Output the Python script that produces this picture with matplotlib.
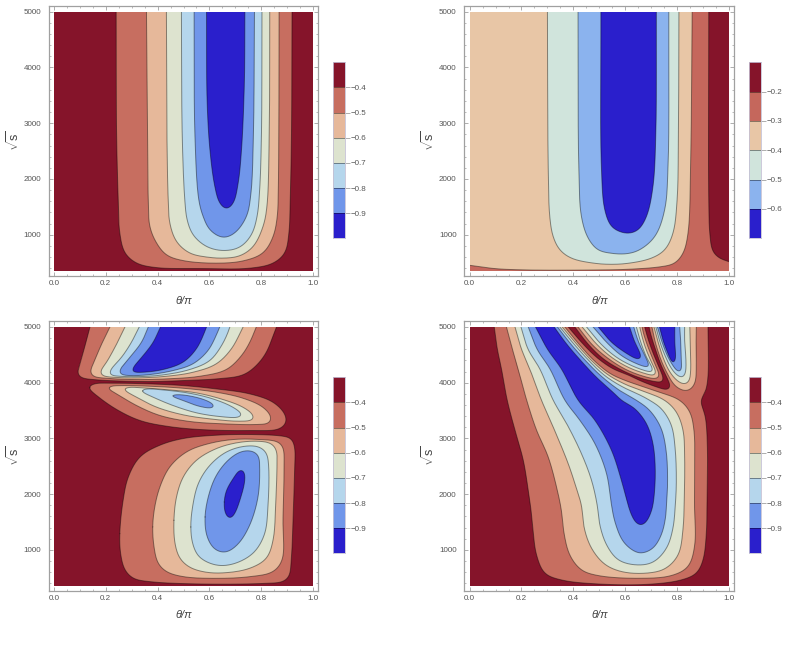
"""Four theta/pi vs sqrt(s) contour panels with stepped colour bars, drawn from traced level curves."""
import numpy as np
import matplotlib
matplotlib.use("Agg")
import matplotlib.pyplot as plt
from matplotlib.patches import Rectangle
from matplotlib.ticker import MultipleLocator

plt.rcParams["font.family"] = ["Liberation Sans", "DejaVu Sans"]
plt.rcParams["mathtext.fontset"] = "custom"
plt.rcParams["mathtext.rm"] = "Liberation Sans"

W, H = 790, 645
THETA_MIN, THETA_MAX = 0.0, 1.0
ROOT_S_MIN, ROOT_S_MAX = 350, 5000
TEXT = "#555555"
FRAME = "#a0a0a0"
LINE = (0, 0, 0, 0.42)

# band colours, lowest band first
BANDS_7 = ["#2a1fcc", "#7096ea", "#b5d6ec", "#dde3cf", "#e6b89a", "#c76e60", "#85142a"]
BANDS_6 = ["#2a1fcc", "#8bb3ee", "#d0e4dc", "#e8c6a6", "#c5675c", "#85142a"]
TICKS_7 = [-0.9, -0.8, -0.7, -0.6, -0.5, -0.4]
TICKS_6 = [-0.6, -0.5, -0.4, -0.3, -0.2]

# top left panel, one curve per level
A_04 = [(.24, 5000), (.241, 3000), (.248, 1624), (.254, 1032), (.274, 673), (.319, 490), (.396, 410), (.563, 395),
        (.756, 400), (.846, 490), (.891, 673), (.907, 1032), (.912, 1624), (.917, 2800), (.919, 5000)]
A_05 = [(.357, 5000), (.361, 2800), (.364, 1624), (.37, 1145), (.396, 850), (.434, 637), (.499, 535), (.627, 490),
        (.73, 530), (.807, 673), (.846, 966), (.862, 1324), (.866, 1800), (.868, 2800), (.869, 5000)]
A_06 = [(.434, 5000), (.436, 2800), (.441, 1624), (.447, 1210), (.473, 876), (.524, 670), (.589, 600), (.653, 580),
        (.717, 620), (.769, 787), (.807, 1145), (.822, 1500), (.831, 2800), (.833, 5000)]
A_07 = [(.492, 5000), (.495, 2800), (.505, 1624), (.514, 1265), (.537, 996), (.589, 787), (.653, 715), (.717, 775),
        (.762, 996), (.784, 1324), (.794, 1800), (.801, 2800), (.803, 5000)]
A_08 = [(.541, 5000), (.544, 2800), (.559, 1624), (.576, 1324), (.602, 1085), (.653, 948), (.698, 1030), (.743, 1324),
        (.76, 1724), (.77, 2800), (.774, 5000)]
A_09 = [(.589, 5000), (.591, 3416), (.602, 2520), (.621, 1862), (.64, 1563), (.666, 1456), (.692, 1563), (.711, 1922),
        (.724, 2520), (.735, 3715), (.737, 5000)]

# top right panel
B_03 = [(0, 452), (.098, 392), (.226, 368), (.483, 368), (.61, 380), (.74, 428), (.79, 487), (.823, 667), (.842, 1025),
        (.852, 2220), (.858, 5000)]
B_02 = [(.922, 5000), (.922, 1623), (.926, 1025), (.938, 697), (.964, 577), (1.0, 517)]
B_04 = [(.30, 5000), (.303, 2220), (.309, 1324), (.322, 965), (.348, 726), (.393, 577), (.483, 487), (.547, 469),
        (.611, 487), (.70, 577), (.752, 726), (.784, 1025), (.80, 1623), (.805, 2800), (.807, 5000)]
B_05 = [(.418, 5000), (.421, 2220), (.431, 1324), (.457, 936), (.495, 726), (.547, 667), (.598, 655), (.65, 714),
        (.714, 965), (.752, 1444), (.765, 2220), (.768, 5000)]
B_06 = [(.506, 5000), (.508, 2220), (.521, 1444), (.547, 1145), (.585, 1043), (.617, 1025), (.65, 1085), (.682, 1324),
        (.707, 1862), (.718, 2818), (.72, 5000)]

# bottom left panel: lower lobe (closed)
C_LOW_04 = [(.254, 1294), (.257, 936), (.274, 637), (.306, 487), (.37, 428), (.563, 386), (.82, 398), (.884, 428),
            (.907, 517), (.916, 816), (.923, 1533), (.929, 2430), (.929, 2848), (.916, 2998), (.884, 3040), (.756, 3070),
            (.627, 3057), (.499, 2998), (.409, 2878), (.332, 2669), (.287, 2310), (.267, 1892)]
C_LOW_05 = [(.381, 1414), (.386, 1055), (.402, 756), (.434, 607), (.499, 517), (.627, 487), (.756, 517), (.846, 607),
            (.881, 816), (.884, 1533), (.888, 2430), (.884, 2848), (.865, 2938), (.794, 2980), (.691, 2980), (.589, 2896),
            (.512, 2759), (.447, 2490), (.409, 2131), (.389, 1772)]
C_LOW_06 = [(.463, 1533), (.467, 1115), (.486, 846), (.524, 685), (.589, 595), (.666, 589), (.756, 667), (.82, 846),
            (.846, 1175), (.856, 1832), (.861, 2549), (.859, 2788), (.839, 2908), (.781, 2950), (.704, 2920), (.627, 2818),
            (.55, 2609), (.499, 2310), (.473, 1952)]
C_LOW_07 = [(.528, 1414), (.535, 1115), (.557, 888), (.602, 756), (.653, 714), (.717, 786), (.775, 966), (.814, 1294),
            (.826, 1772), (.829, 2490), (.82, 2741), (.792, 2848), (.736, 2860), (.666, 2759), (.602, 2520), (.557, 2191),
            (.535, 1772)]
C_LOW_08 = [(.583, 1593), (.591, 1234), (.621, 1007), (.663, 954), (.711, 1103), (.756, 1444), (.788, 1952), (.794, 2490),
            (.789, 2699), (.762, 2777), (.72, 2759), (.672, 2609), (.627, 2340), (.599, 2011)]
C_LOW_09 = [(.657, 1862), (.662, 1641), (.679, 1551), (.695, 1623), (.72, 1922), (.737, 2250), (.734, 2418), (.72, 2448),
            (.692, 2280), (.666, 2071)]
# bottom left panel: middle lobe (closed)
C_MID_04 = [(.132, 3918), (.165, 3769), (.242, 3518), (.332, 3320), (.434, 3219), (.563, 3159), (.756, 3141), (.871, 3171),
            (.897, 3290), (.891, 3440), (.846, 3649), (.756, 3799), (.627, 3888), (.499, 3948), (.37, 3978), (.242, 3990),
            (.152, 3978)]
C_MID_05 = [(.206, 3906), (.242, 3799), (.319, 3589), (.409, 3410), (.524, 3303), (.653, 3261), (.781, 3249), (.833, 3279),
            (.839, 3380), (.807, 3560), (.73, 3721), (.627, 3829), (.499, 3900), (.37, 3936), (.267, 3948), (.216, 3936)]
C_MID_06 = [(.267, 3888), (.319, 3739), (.396, 3560), (.499, 3422), (.602, 3350), (.717, 3308), (.771, 3338), (.771, 3410),
            (.73, 3560), (.653, 3697), (.55, 3817), (.447, 3870), (.344, 3906), (.287, 3918)]
C_MID_07 = [(.334, 3858), (.383, 3739), (.46, 3589), (.55, 3458), (.64, 3392), (.717, 3380), (.728, 3422), (.691, 3560),
            (.614, 3709), (.524, 3811), (.421, 3870), (.351, 3888)]
C_MID_08 = [(.45, 3769), (.499, 3680), (.563, 3572), (.618, 3548), (.621, 3590), (.589, 3680), (.537, 3751), (.479, 3787)]
# bottom left panel: upper lobe (runs out through the top edge)
C_TOP_04 = [(.139, 5000), (.12, 4665), (.098, 4307), (.09, 4157), (.103, 4092), (.152, 4056), (.242, 4032), (.37, 4020),
            (.499, 4038), (.627, 4068), (.73, 4139), (.781, 4307), (.82, 4546), (.846, 4845), (.859, 5000)]
C_TOP_05 = [(.216, 5000), (.184, 4695), (.154, 4366), (.139, 4187), (.149, 4115), (.203, 4080), (.306, 4056), (.434, 4068),
            (.563, 4115), (.666, 4235), (.724, 4486), (.756, 4725), (.781, 5000)]
C_TOP_06 = [(.274, 5000), (.242, 4695), (.203, 4366), (.177, 4187), (.184, 4127), (.229, 4098), (.319, 4086), (.434, 4115),
            (.537, 4187), (.627, 4337), (.685, 4606), (.717, 4875), (.73, 5000)]
C_TOP_07 = [(.329, 5000), (.299, 4725), (.261, 4456), (.216, 4217), (.213, 4145), (.254, 4115), (.332, 4109), (.421, 4139),
            (.524, 4235), (.602, 4396), (.647, 4665), (.672, 4904), (.679, 5000)]
C_TOP_08 = [(.364, 5000), (.338, 4725), (.293, 4456), (.252, 4217), (.252, 4157), (.293, 4127), (.37, 4145), (.46, 4217),
            (.537, 4337), (.595, 4576), (.623, 4815), (.64, 5000)]
C_TOP_09 = [(.411, 5000), (.383, 4725), (.344, 4486), (.306, 4277), (.299, 4199), (.344, 4187), (.421, 4235), (.499, 4366),
            (.55, 4606), (.576, 4845), (.589, 5000)]

# bottom right panel: main valley
D_MAIN_04 = [(.095, 5000), (.107, 4600), (.123, 4247), (.145, 3685), (.175, 3147), (.207, 2609), (.226, 2071), (.237, 1703),
             (.245, 1325), (.258, 906), (.29, 578), (.354, 458), (.496, 386), (.688, 380), (.816, 458), (.874, 578), (.90, 817),
             (.913, 1325), (.915, 1803), (.917, 2788), (.909, 3386), (.891, 3685), (.909, 3834), (.919, 4103), (.919, 5000)]
D_MAIN_05 = [(.142, 5000), (.165, 4600), (.187, 4247), (.22, 3685), (.258, 3147), (.303, 2669), (.338, 2071), (.354, 1703),
             (.363, 1325), (.386, 906), (.431, 637), (.496, 536), (.65, 488), (.778, 536), (.842, 697), (.868, 1086),
             (.867, 1803), (.868, 2490), (.865, 3147), (.849, 3476), (.81, 3685), (.72, 3846), (.656, 3948), (.611, 4020),
             (.544, 4157), (.48, 4396), (.421, 4695), (.367, 5000)]
D_MAIN_06 = [(.175, 5000), (.2, 4600), (.232, 4247), (.277, 3685), (.322, 3207), (.38, 2549), (.412, 2100), (.431, 1803),
             (.442, 1385), (.47, 1026), (.521, 739), (.585, 608), (.675, 578), (.752, 655), (.804, 906), (.823, 1385),
             (.827, 1803), (.829, 2669), (.823, 3147), (.797, 3476), (.752, 3685), (.662, 3858), (.605, 3960), (.534, 4139),
             (.47, 4396), (.412, 4695), (.357, 5000)]
D_MAIN_07 = [(.198, 5000), (.225, 4600), (.271, 4247), (.322, 3685), (.374, 3267), (.431, 2729), (.47, 2250), (.492, 1803),
             (.502, 1444), (.528, 1086), (.573, 817), (.643, 727), (.707, 775), (.759, 1026), (.784, 1385), (.793, 1803),
             (.797, 2191), (.793, 2788), (.778, 3237), (.739, 3536), (.694, 3685), (.656, 3781), (.592, 3918), (.521, 4127),
             (.46, 4396), (.402, 4695), (.348, 5000)]
D_MAIN_08 = [(.226, 5000), (.26, 4600), (.31, 4247), (.367, 3685), (.425, 3326), (.483, 2908), (.528, 2370), (.547, 1803),
             (.56, 1504), (.592, 1146), (.637, 966), (.662, 936), (.707, 1026), (.739, 1265), (.755, 1564), (.759, 1803),
             (.763, 2131), (.759, 2729), (.739, 3177), (.694, 3506), (.643, 3685), (.579, 3858), (.508, 4115), (.447, 4396),
             (.39, 4695), (.339, 5000)]
D_MAIN_09 = [(.254, 5000), (.30, 4600), (.354, 4247), (.418, 3685), (.483, 3326), (.547, 2788), (.585, 2250), (.611, 1803),
             (.624, 1624), (.643, 1474), (.662, 1432), (.682, 1504), (.698, 1654), (.707, 1803), (.716, 2370), (.707, 2908),
             (.682, 3267), (.637, 3536), (.585, 3685), (.56, 3799), (.489, 4097), (.429, 4396), (.374, 4695), (.326, 5000)]
# bottom right panel: V-shaped ridge and the valley it encloses
D_WEDGE_OUT = [(.38, 5000), (.431, 4725), (.489, 4456), (.553, 4247), (.611, 4139), (.656, 4038), (.72, 3924), (.768, 3870),
               (.775, 3936), (.763, 4068), (.739, 4307), (.716, 4606), (.698, 4874), (.692, 5000)]
D_WEDGE_04 = [(.406, 5000), (.451, 4725), (.508, 4456), (.573, 4259), (.65, 4097), (.714, 4020), (.746, 4008), (.748, 4068),
              (.727, 4307), (.701, 4606), (.682, 4874), (.675, 5000)]
D_WEDGE_05 = [(.418, 5000), (.47, 4695), (.528, 4456), (.598, 4247), (.662, 4127), (.72, 4068), (.733, 4097), (.714, 4337),
              (.688, 4635), (.669, 4904), (.665, 5000)]
D_WEDGE_06 = [(.434, 5000), (.489, 4695), (.547, 4456), (.611, 4277), (.669, 4175), (.716, 4127), (.72, 4175), (.701, 4366),
              (.675, 4665), (.659, 4934), (.656, 5000)]
D_WEDGE_07 = [(.451, 5000), (.506, 4695), (.566, 4456), (.624, 4307), (.675, 4217), (.707, 4187), (.707, 4247), (.685, 4426),
              (.662, 4695), (.643, 5000)]
D_WEDGE_08 = [(.476, 5000), (.528, 4725), (.585, 4486), (.637, 4354), (.682, 4277), (.694, 4277), (.691, 4337), (.669, 4546),
              (.647, 4785), (.633, 5000)]
D_WEDGE_09 = [(.496, 5000), (.547, 4725), (.598, 4546), (.65, 4414), (.662, 4426), (.659, 4516), (.637, 4725), (.617, 5000)]
# bottom right panel: narrow valley on the right
D_RIGHT_05 = [(.703, 5000), (.716, 4725), (.739, 4396), (.763, 4157), (.791, 3948), (.823, 3858), (.845, 3858), (.868, 3978),
              (.874, 4307), (.873, 4606), (.874, 5000)]
D_RIGHT_06 = [(.711, 5000), (.727, 4725), (.748, 4426), (.774, 4175), (.804, 4020), (.829, 3966), (.845, 4008), (.852, 4187),
              (.851, 4606), (.849, 5000)]
D_RIGHT_07 = [(.718, 5000), (.734, 4725), (.756, 4456), (.783, 4217), (.81, 4097), (.823, 4086), (.832, 4157), (.834, 4426),
              (.829, 4725), (.829, 5000)]
D_RIGHT_08 = [(.724, 5000), (.742, 4725), (.765, 4456), (.788, 4277), (.804, 4187), (.816, 4199), (.816, 4396), (.814, 4725),
              (.81, 5000)]
D_RIGHT_09 = [(.732, 5000), (.748, 4725), (.768, 4486), (.778, 4378), (.784, 4337), (.793, 4378), (.791, 4725), (.791, 5000)]


def catmull_rom(p, closed, n=12):
    """Centripetal Catmull-Rom through the points of p."""
    if closed:
        c = np.vstack([p[-1], p, p[0], p[1]])
    else:
        c = np.vstack([2 * p[0] - p[1], p, 2 * p[-1] - p[-2]])
    out = []
    for i in range(1, len(c) - 2):
        p0, p1, p2, p3 = c[i - 1], c[i], c[i + 1], c[i + 2]
        t0 = 0.0
        t1 = t0 + np.linalg.norm(p1 - p0) ** 0.5
        t2 = t1 + np.linalg.norm(p2 - p1) ** 0.5
        t3 = t2 + np.linalg.norm(p3 - p2) ** 0.5
        t = np.linspace(t1, t2, n, endpoint=False)[:, None]
        a1 = (t1 - t) / (t1 - t0) * p0 + (t - t0) / (t1 - t0) * p1
        a2 = (t2 - t) / (t2 - t1) * p1 + (t - t1) / (t2 - t1) * p2
        a3 = (t3 - t) / (t3 - t2) * p2 + (t - t2) / (t3 - t2) * p3
        b1 = (t2 - t) / (t2 - t0) * a1 + (t - t0) / (t2 - t0) * a2
        b2 = (t3 - t) / (t3 - t1) * a2 + (t - t1) / (t3 - t1) * a3
        out.append((t2 - t) / (t2 - t1) * b1 + (t - t1) / (t2 - t1) * b2)
    return np.vstack(out + [c[-2]])


def spline(curve, closed=False, sigma=0.014, step=0.002):
    """Smooth curve through the traced points: spline, arc-length resample, gaussian."""
    scale = np.array([1.0, ROOT_S_MAX - ROOT_S_MIN])
    p = catmull_rom(np.array(curve, float) / scale, closed)
    d = np.r_[0, np.cumsum(np.hypot(*np.diff(p, axis=0).T))]
    t = np.arange(0, d[-1], step)
    q = np.column_stack([np.interp(t, d, p[:, 0]), np.interp(t, d, p[:, 1])])
    half = min(int(4 * sigma / step), len(q) - 1)
    kern = np.exp(-0.5 * (np.arange(-half, half + 1) * step / sigma) ** 2)
    kern /= kern.sum()
    if closed:
        pad = np.vstack([q[-half:], q, q[:half]])
    else:
        # odd reflection keeps the end points where they were traced
        q = np.vstack([q, p[-1]])
        pad = np.vstack([2 * q[0] - q[half:0:-1], q, 2 * q[-1] - q[-2:-half - 2:-1]])
    out = np.column_stack([np.convolve(pad[:, i], kern, mode="valid") for i in range(2)])
    if closed:
        out = np.vstack([out, out[0]])
    return out * scale


def axes_at(fig, left, top, right, bottom):
    return fig.add_axes([left / W, 1 - bottom / H, (right - left) / W, (bottom - top) / H])


def region(ax, base, curve, color, closed=False, corners=()):
    # filled level region plus its contour line; corners close it along the plot edge
    pts = spline(curve, closed)
    poly = np.vstack([pts, corners]) if len(corners) else pts
    patch = ax.fill(poly[:, 0], poly[:, 1], facecolor=color, edgecolor="none", zorder=2)[0]
    line = ax.plot(pts[:, 0], pts[:, 1], color=LINE, lw=0.7, zorder=2)[0]
    patch.set_clip_path(base)
    line.set_clip_path(base)


def panel(fig, rect, bg, levels):
    ax = axes_at(fig, *rect)
    ax.set_xlim(-0.0205, 1.0205)
    ax.set_ylim(260, 5102)
    base = Rectangle((THETA_MIN, ROOT_S_MIN), THETA_MAX - THETA_MIN, ROOT_S_MAX - ROOT_S_MIN, facecolor=bg,
                     edgecolor="none", zorder=1)
    ax.add_patch(base)
    for lv in levels:
        region(ax, base, *lv)
    ax.xaxis.set_minor_locator(MultipleLocator(0.05))
    ax.yaxis.set_minor_locator(MultipleLocator(200))
    ax.set_yticks([1000, 2000, 3000, 4000, 5000])
    ax.set_xticks([0, 0.2, 0.4, 0.6, 0.8, 1.0])
    ax.set_xticklabels(["0.0", "0.2", "0.4", "0.6", "0.8", "1.0"])
    ax.tick_params(which="major", direction="in", top=True, right=True, length=3, width=0.6, color=FRAME,
                   labelsize=5.8, labelcolor=TEXT)
    ax.tick_params(which="minor", direction="in", top=True, right=True, length=1.6, width=0.5, color=FRAME)
    ax.tick_params(axis="x", which="major", pad=3.2)
    ax.tick_params(axis="y", which="major", pad=5.5)
    for sp in ax.spines.values():
        sp.set_color(FRAME)
        sp.set_linewidth(0.9)
    return ax


def colorbar(fig, left, top, bottom, colors, ticks):
    ax = axes_at(fig, left, top, left + 11.7, bottom)
    low = ticks[0] - 0.1
    for i, c in enumerate(colors):
        ax.bar(0.5, 0.1, bottom=low + i * 0.1, width=1, color=c, edgecolor="none")
    ax.hlines(ticks, 0, 1, color=LINE, lw=0.7)
    ax.set_xlim(0, 1)
    ax.set_ylim(low, low + 0.1 * len(colors))
    ax.set_xticks([])
    ax.yaxis.tick_right()
    ax.set_yticks(ticks)
    ax.set_yticklabels([f"\u2212{abs(t):.1f}" for t in ticks])
    ax.tick_params(direction="out", length=3.4, width=0.6, color=FRAME, labelsize=5.8, labelcolor=TEXT, pad=0.8)
    for sp in ax.spines.values():
        sp.set_color("#c4c0d4")
        sp.set_linewidth(0.6)


def labels(fig, xc, xy, yx, yy):
    fig.text(xc / W, 1 - xy / H, "\u03b8/\u03c0", style="italic", fontsize=8, color="#444444", ha="center", va="center")
    fig.text(yx / W, 1 - yy / H, r"$\sqrt{\mathrm{s}}$", rotation=90, fontsize=9, color="#444444", ha="center", va="center")


def main():
    fig = plt.figure(figsize=(W / 100, H / 100), dpi=100)
    b7, b6 = BANDS_7, BANDS_6

    panel(fig, (48.7, 6, 318.3, 276), b7[6], [(A_04, b7[5]), (A_05, b7[4]), (A_06, b7[3]), (A_07, b7[2]),
                                              (A_08, b7[1]), (A_09, b7[0])])
    # top right: the tan band is the backdrop, the red bands close against the plot edges
    panel(fig, (464.3, 6, 734.3, 276), b6[3], [
        (B_03, b6[4], False, [(THETA_MAX, ROOT_S_MAX), (THETA_MAX, ROOT_S_MIN), (THETA_MIN, ROOT_S_MIN)]),
        (B_02, b6[5], False, [(THETA_MAX, ROOT_S_MAX)]),
        (B_04, b6[2]), (B_05, b6[1]), (B_06, b6[0])])
    panel(fig, (48.7, 321.3, 318.3, 591), b7[6], [
        (C_LOW_04, b7[5], True), (C_LOW_05, b7[4], True), (C_LOW_06, b7[3], True), (C_LOW_07, b7[2], True),
        (C_LOW_08, b7[1], True), (C_LOW_09, b7[0], True),
        (C_MID_04, b7[5], True), (C_MID_05, b7[4], True), (C_MID_06, b7[3], True), (C_MID_07, b7[2], True),
        (C_MID_08, b7[1], True),
        (C_TOP_04, b7[5]), (C_TOP_05, b7[4]), (C_TOP_06, b7[3]), (C_TOP_07, b7[2]), (C_TOP_08, b7[1]),
        (C_TOP_09, b7[0])])
    panel(fig, (464.3, 321.3, 734.3, 591), b7[6], [
        (D_MAIN_04, b7[5]), (D_MAIN_05, b7[4]), (D_MAIN_06, b7[3]), (D_MAIN_07, b7[2]), (D_MAIN_08, b7[1]),
        (D_MAIN_09, b7[0]),
        (D_RIGHT_05, b7[4]), (D_RIGHT_06, b7[3]), (D_RIGHT_07, b7[2]), (D_RIGHT_08, b7[1]), (D_RIGHT_09, b7[0]),
        (D_WEDGE_OUT, b7[6]), (D_WEDGE_04, b7[5]), (D_WEDGE_05, b7[4]), (D_WEDGE_06, b7[3]), (D_WEDGE_07, b7[2]),
        (D_WEDGE_08, b7[1]), (D_WEDGE_09, b7[0])])

    colorbar(fig, 333, 62.3, 238.3, b7, TICKS_7)
    colorbar(fig, 749, 62.3, 238.3, b6, TICKS_6)
    colorbar(fig, 333, 377.3, 553.3, b7, TICKS_7)
    colorbar(fig, 749, 377.3, 553.3, b7, TICKS_7)

    labels(fig, 184, 300.5, 14, 141)
    labels(fig, 599.5, 300.5, 429, 141)
    labels(fig, 184, 615.5, 14, 456)
    labels(fig, 599.5, 615.5, 429, 456)

    fig.savefig("out.png", dpi=100)
    plt.close(fig)


if __name__ == "__main__":
    main()
